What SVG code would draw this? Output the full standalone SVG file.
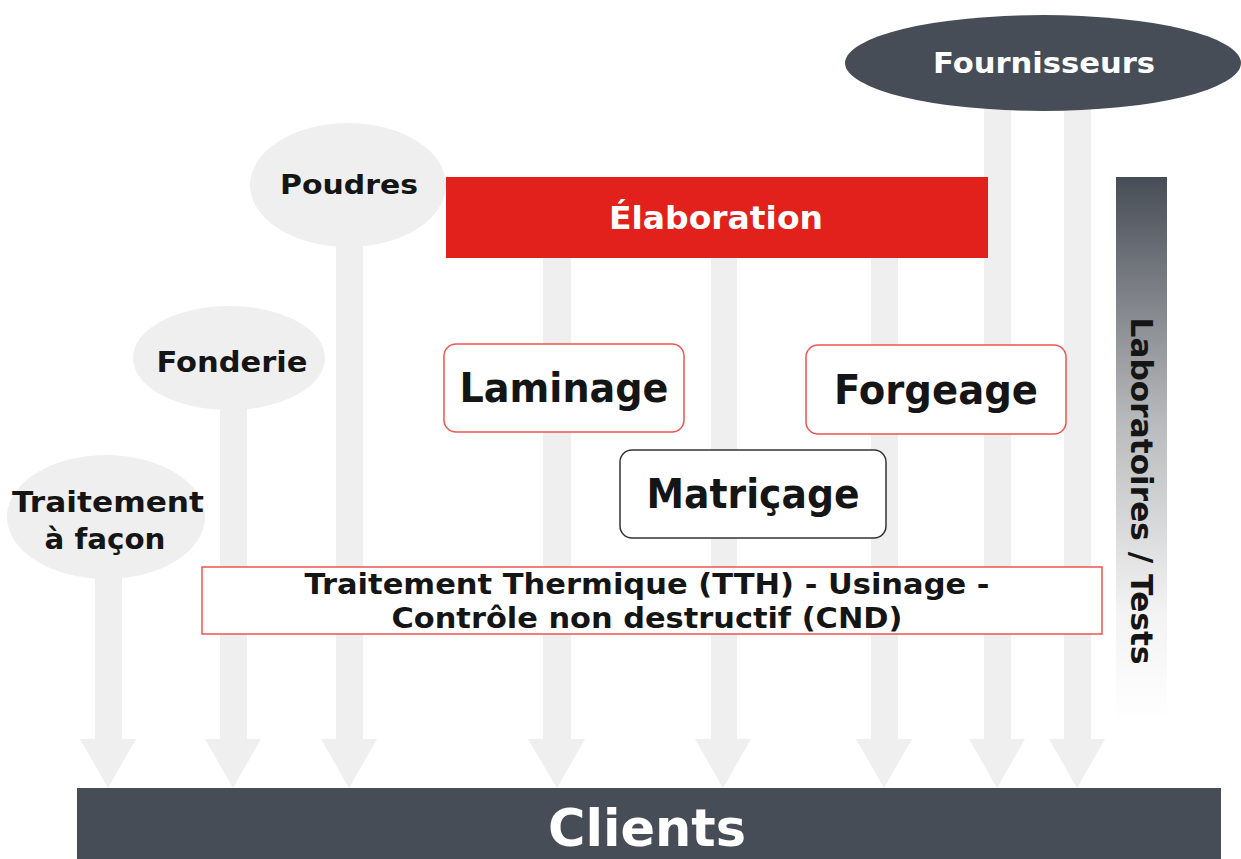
<svg xmlns="http://www.w3.org/2000/svg" width="1241" height="859" viewBox="0 0 1241 859">
<defs>
<linearGradient id="labg" x1="0" y1="0" x2="0" y2="1">
<stop offset="0" stop-color="#474d56"/>
<stop offset="0.45" stop-color="#b9babd"/>
<stop offset="0.8" stop-color="#f3f3f3"/>
<stop offset="1" stop-color="#ffffff"/>
</linearGradient>
<style>
.arr{fill:#efefef}
.ell{fill:#efefef}
.dark{fill:#474d56}
.bt{font-family:"DejaVu Sans",Verdana,sans-serif;font-weight:bold;text-anchor:middle}
.blk{fill:#151515}
.wht{fill:#ffffff}
.rbox{fill:#ffffff;stroke:#ec5550;stroke-width:1.5}
.kbox{fill:#ffffff;stroke:#333333;stroke-width:1.5}
</style>
</defs>
<rect width="1241" height="859" fill="#ffffff"/>

<g id="connectors">
<path class="arr" d="M95,575 h27 v164 h14 l-28,49 l-28,-49 h15 z"/>
<path class="arr" d="M220,405 h27 v334 h14 l-28,49 l-28,-49 h15 z"/>
<path class="arr" d="M336,240 h27 v499 h14 l-28,49 l-28,-49 h15 z"/>
<path class="arr" d="M543,258 h28 v481 h14 l-28,49 l-29,-49 h15 z"/>
<path class="arr" d="M711,258 h26 v481 h14 l-28,49 l-28,-49 h16 z"/>
<path class="arr" d="M871,258 h27 v481 h14 l-28,49 l-28,-49 h15 z"/>
<path class="arr" d="M984,100 h27 v639 h14 l-28,49 l-28,-49 h15 z"/>
<path class="arr" d="M1064,100 h27 v639 h14 l-28,49 l-28,-49 h15 z"/>
</g>

<g id="clients">
<rect class="dark" x="77" y="788" width="1144" height="71"/>
<text class="bt wht" x="647" y="846" font-size="52" textLength="198" lengthAdjust="spacingAndGlyphs">Clients</text>
</g>

<g id="fournisseurs">
<ellipse class="dark" cx="1043" cy="63" rx="198" ry="48"/>
<text class="bt wht" x="1044" y="73" font-size="28" textLength="222" lengthAdjust="spacingAndGlyphs">Fournisseurs</text>
</g>

<g id="laboratoires">
<rect x="1116" y="177" width="51" height="545" fill="url(#labg)"/>
<text class="bt blk" transform="translate(1131,491) rotate(90)" font-size="30" textLength="347" lengthAdjust="spacingAndGlyphs">Laboratoires / Tests</text>
</g>

<g id="poudres">
<ellipse class="ell" cx="348" cy="185" rx="98" ry="62"/>
<text class="bt blk" x="349" y="194" font-size="27" textLength="138" lengthAdjust="spacingAndGlyphs">Poudres</text>
</g>

<g id="fonderie">
<ellipse class="ell" cx="229" cy="358" rx="96" ry="52"/>
<text class="bt blk" x="232" y="372" font-size="28" textLength="151" lengthAdjust="spacingAndGlyphs">Fonderie</text>
</g>

<g id="traitement-facon">
<ellipse class="ell" cx="106" cy="517" rx="99" ry="62"/>
<text class="bt blk" x="108" y="512" font-size="28" textLength="192" lengthAdjust="spacingAndGlyphs">Traitement</text>
<text class="bt blk" x="105" y="549" font-size="28" textLength="121" lengthAdjust="spacingAndGlyphs">à façon</text>
</g>

<g id="elaboration">
<rect x="446" y="177" width="542" height="81" fill="#e2211c"/>
<text class="bt wht" x="716" y="229" font-size="32" textLength="214" lengthAdjust="spacingAndGlyphs">Élaboration</text>
</g>

<g id="laminage">
<rect class="rbox" x="444" y="344" width="240" height="88" rx="12"/>
<text class="bt blk" x="564" y="402" font-size="41" textLength="209" lengthAdjust="spacingAndGlyphs">Laminage</text>
</g>

<g id="forgeage">
<rect class="rbox" x="806" y="345" width="260" height="89" rx="12"/>
<text class="bt blk" x="936" y="404" font-size="41" textLength="204" lengthAdjust="spacingAndGlyphs">Forgeage</text>
</g>

<g id="matricage">
<rect class="kbox" x="620" y="450" width="266" height="88" rx="12"/>
<text class="bt blk" x="753" y="508" font-size="41" textLength="213" lengthAdjust="spacingAndGlyphs">Matriçage</text>
</g>

<g id="tth">
<rect class="rbox" x="202" y="567" width="900" height="67"/>
<text class="bt blk" x="647" y="594" font-size="28" textLength="685" lengthAdjust="spacingAndGlyphs">Traitement Thermique (TTH) - Usinage -</text>
<text class="bt blk" x="647" y="628" font-size="28" textLength="511" lengthAdjust="spacingAndGlyphs">Contrôle non destructif (CND)</text>
</g>
</svg>
